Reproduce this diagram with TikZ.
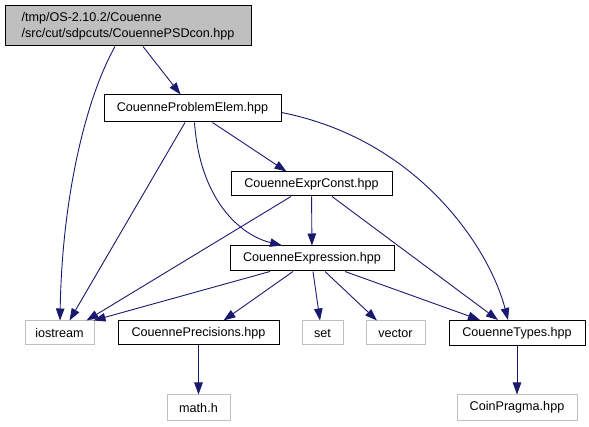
\documentclass[tikz,border=0pt]{standalone}
\usepackage{fontspec}
\setmainfont{Liberation Sans}
\usetikzlibrary{arrows.meta}
\definecolor{edgeblue}{HTML}{191970}
\definecolor{graybox}{HTML}{BFBFBF}
\begin{document}
\begin{tikzpicture}[x=1pt,y=1pt,
  box/.style={draw=black, line width=1pt, fill=white, inner sep=0pt, font=\fontsize{12.6}{15.5}\selectfont},
  gbox/.style={box, draw=graybox},
  edge/.style={draw=edgeblue, line width=0.9pt, -{Triangle[length=12pt,width=8.5pt]}}]
\useasboundingbox (0,0) rectangle (589,-427);
\node[box, fill=graybox, minimum width=246pt, minimum height=40pt, align=left] (root) at (128,-26) {/tmp/OS-2.10.2/Couenne\\/src/cut/sdpcuts/CouennePSDcon.hpp};
\node[box, minimum width=177pt, minimum height=27pt] (pe) at (192.5,-108.5) {CouenneProblemElem.hpp};
\node[box, minimum width=161pt, minimum height=24pt] (ec) at (311.5,-184) {CouenneExprConst.hpp};
\node[box, minimum width=164pt, minimum height=25pt] (ex) at (312,-258.5) {CouenneExpression.hpp};
\node[gbox, minimum width=69pt, minimum height=24pt] (io) at (59.5,-333) {iostream};
\node[box, minimum width=161pt, minimum height=24pt] (pr) at (198.5,-333) {CouennePrecisions.hpp};
\node[gbox, minimum width=41pt, minimum height=24pt] (set) at (322.5,-333) {set};
\node[gbox, minimum width=59pt, minimum height=24pt] (vec) at (395.5,-333) {vector};
\node[box, minimum width=136pt, minimum height=25pt] (ty) at (517,-333) {CouenneTypes.hpp};
\node[gbox, minimum width=63pt, minimum height=25pt] (mh) at (198.5,-407.5) {math.h};
\node[gbox, minimum width=120pt, minimum height=25pt] (cp) at (517,-407.5) {CoinPragma.hpp};

\draw[edge] ([xshift=-13pt]root.south) .. controls (85,-100) and (62,-200) .. ([xshift=0.5pt]io.north);
\draw[edge] ([xshift=15pt]root.south) -- ([xshift=-12pt]pe.north);
\draw[edge] ([xshift=-7.5pt]pe.south) -- ([xshift=10pt]io.north);
\draw[edge] ([xshift=20pt]pe.south) -- ([xshift=-25pt]ec.north);
\draw[edge] ([xshift=2pt]pe.south) .. controls (200,-200) and (240,-235) .. ([xshift=-30pt]ex.north);
\draw[edge] ([yshift=-4pt]pe.east) .. controls (420,-140) and (490,-250) .. ([xshift=-9pt]ty.north);
\draw[edge] ([xshift=-20.5pt]ec.south) -- ([xshift=27pt]io.north);
\draw[edge] (ec) -- (ex);
\draw[edge] ([xshift=20.5pt]ec.south) -- ([xshift=-19pt]ty.north);
\draw[edge] ([xshift=-42pt]ex.south) -- ([xshift=-1pt]io.north east);
\draw[edge] ([xshift=-19pt]ex.south) -- ([xshift=25pt]pr.north);
\draw[edge] ([xshift=1pt]ex.south) -- ([xshift=-2.5pt]set.north);
\draw[edge] ([xshift=13pt]ex.south) -- ([xshift=-18.5pt]vec.north);
\draw[edge] ([xshift=33pt]ex.south) -- ([xshift=-37pt]ty.north);
\draw[edge] (pr) -- (mh);
\draw[edge] (ty) -- (cp);
\end{tikzpicture}
\end{document}
